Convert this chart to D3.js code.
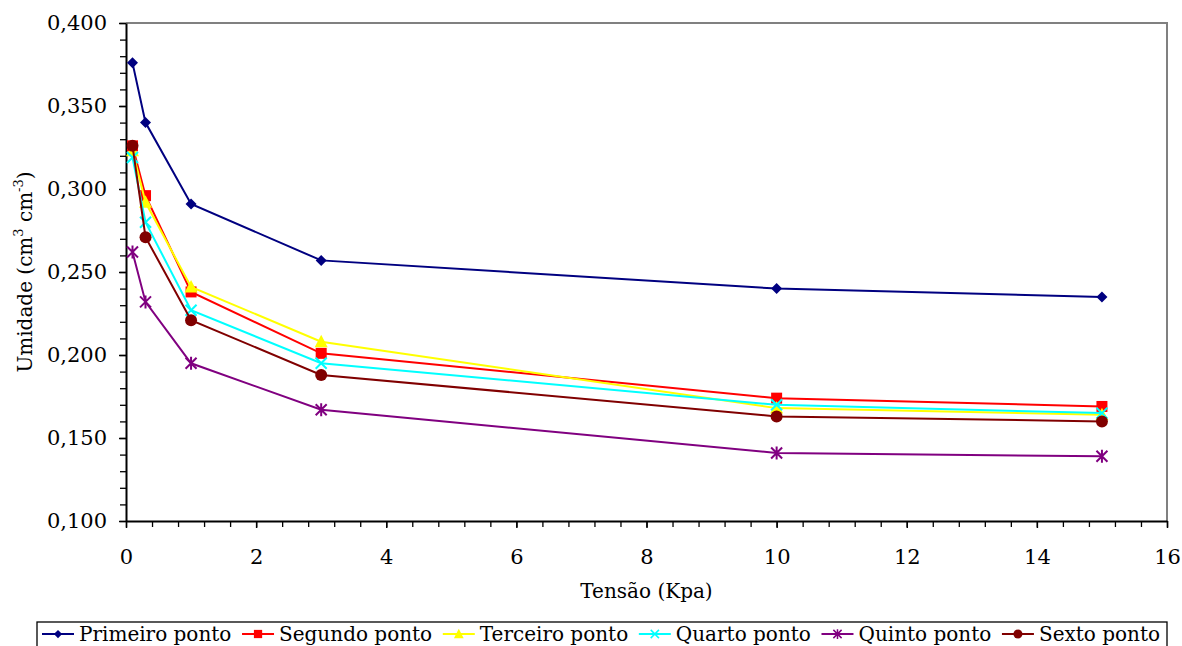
<!DOCTYPE html>
<html>
<head>
<meta charset="utf-8">
<script src="https://cdn.jsdelivr.net/npm/d3@7"></script>
<style>
  body { margin: 0; background: #fff; }
</style>
</head>
<body>
<svg id="chart" width="1182" height="646"></svg>
<script>
// tensao (kPa)
var tensao = [0.1, 0.3, 1, 3, 10, 15];

var primeiro = [0.376, 0.340, 0.291, 0.257, 0.240, 0.235];
var segundo  = [0.326, 0.296, 0.238, 0.201, 0.174, 0.169];
var terceiro = [0.323, 0.292, 0.241, 0.208, 0.168, 0.164];
var quarto   = [0.319, 0.280, 0.227, 0.195, 0.170, 0.165];
var quinto   = [0.262, 0.232, 0.195, 0.167, 0.141, 0.139];
var sexto    = [0.326, 0.271, 0.221, 0.188, 0.163, 0.160];

var seriesNames = ["Primeiro ponto", "Segundo ponto", "Terceiro ponto", "Quarto ponto", "Quinto ponto", "Sexto ponto"];
var seriesValues = [primeiro, segundo, terceiro, quarto, quinto, sexto];
var seriesColors = ["#000080", "#ff0000", "#ffff00", "#00ffff", "#800080", "#800000"];
var seriesMarkers = ["diamond", "square", "triangle", "x", "star", "circle"];

var xTicks = [0, 2, 4, 6, 8, 10, 12, 14, 16];
var yTicks = [0.100, 0.150, 0.200, 0.250, 0.300, 0.350, 0.400];

var FONT = "DejaVu Serif, serif";

var margin = {top: 23, right: 15, bottom: 125, left: 126},
    width = 1167 - margin.left,
    height = 521 - margin.top;

var svg = d3.select("#chart");
var g = svg.append("g")
    .attr("transform", "translate(" + margin.left + "," + margin.top + ")");

var x = d3.scaleLinear().domain([0, 16]).range([0, width]);
var y = d3.scaleLinear().domain([0.1, 0.4]).range([height, 0]);

var fmt = function(d) { return d3.format(".3f")(d).replace(".", ","); };

// plot border (top + right gray)
g.append("path")
    .attr("d", "M0,0H" + width + "V" + height)
    .attr("fill", "none")
    .attr("stroke", "#808080")
    .attr("stroke-width", 2);

// minor ticks
g.append("g")
    .attr("transform", "translate(0," + height + ")")
    .call(d3.axisBottom(x).tickValues(d3.range(0, 16.01, 0.4)).tickSize(6).tickFormat(""))
    .call(function(a) { a.select(".domain").remove(); a.selectAll("line").attr("stroke-width", 1.3); });
g.append("g")
    .call(d3.axisLeft(y).tickValues(d3.range(0.1, 0.4001, 0.01)).tickSize(6).tickFormat(""))
    .call(function(a) { a.select(".domain").remove(); a.selectAll("line").attr("stroke-width", 1.3); });

// major axes
var xAxis = g.append("g")
    .attr("transform", "translate(0," + height + ")")
    .call(d3.axisBottom(x).tickValues(xTicks).tickSize(7).tickPadding(21).tickSizeOuter(0));
xAxis.attr("font-family", FONT).attr("font-size", 21);
xAxis.select(".domain").attr("stroke-width", 2);
xAxis.selectAll("line").attr("stroke-width", 1.5);

var yAxis = g.append("g")
    .call(d3.axisLeft(y).tickValues(yTicks).tickSize(7).tickPadding(12).tickFormat(fmt).tickSizeOuter(0));
yAxis.attr("font-family", FONT).attr("font-size", 21);
yAxis.select(".domain").attr("stroke-width", 2);
yAxis.selectAll("line").attr("stroke-width", 1.5);

// axis titles
svg.append("text")
    .attr("x", margin.left + x(8))
    .attr("y", 598)
    .attr("text-anchor", "middle")
    .attr("font-family", FONT)
    .attr("font-size", 20)
    .text("Tensão (Kpa)");

var yt = svg.append("text")
    .attr("transform", "translate(32," + (margin.top + y(0.25)) + ") rotate(-90)")
    .attr("text-anchor", "middle")
    .attr("font-family", FONT)
    .attr("font-size", 20);
yt.append("tspan").text("Umidade (cm");
yt.append("tspan").attr("dy", -9).attr("font-size", 13).text("3");
yt.append("tspan").attr("dy", 9).text(" cm");
yt.append("tspan").attr("dy", -9).attr("font-size", 13).text("-3");
yt.append("tspan").attr("dy", 9).text(")");

// marker drawing
function drawMarker(sel, type, color) {
    var s = 5.5;
    if (type == "diamond") {
        sel.append("path").attr("d", "M0,-" + s + "L" + s + ",0L0," + s + "L-" + s + ",0Z").attr("fill", color);
    } else if (type == "square") {
        sel.append("rect").attr("x", -s).attr("y", -s).attr("width", 2 * s).attr("height", 2 * s).attr("fill", color);
    } else if (type == "triangle") {
        sel.append("path").attr("d", "M0,-7L6.5,5.5L-6.5,5.5Z").attr("fill", color);
    } else if (type == "x") {
        sel.append("path").attr("d", "M-5.5,-5.5L5.5,5.5M-5.5,5.5L5.5,-5.5").attr("stroke", color).attr("stroke-width", 2);
    } else if (type == "star") {
        sel.append("path").attr("d", "M-5.5,-5.5L5.5,5.5M-5.5,5.5L5.5,-5.5M0,-6.5V6.5").attr("stroke", color).attr("stroke-width", 2);
    } else {
        sel.append("circle").attr("r", s + 0.5).attr("fill", color);
    }
}

var line = d3.line()
    .x(function(d) { return x(d.x); })
    .y(function(d) { return y(d.y); });

seriesValues.forEach(function(vals, i) {
    var pts = vals.map(function(v, j) { return {x: tensao[j], y: v}; });
    var sg = g.append("g");
    sg.append("path")
        .datum(pts)
        .attr("fill", "none")
        .attr("stroke", seriesColors[i])
        .attr("stroke-width", 2)
        .attr("d", line);
    sg.selectAll(".pt")
        .data(pts)
        .enter()
        .append("g")
        .attr("transform", function(d) { return "translate(" + x(d.x) + "," + y(d.y) + ")"; })
        .each(function() { drawMarker(d3.select(this), seriesMarkers[i], seriesColors[i]); });
});

// legend
var legend = svg.append("g");
legend.append("rect")
    .attr("x", 37).attr("y", 622)
    .attr("width", 1130).attr("height", 40)
    .attr("fill", "#fff")
    .attr("stroke", "#000")
    .attr("stroke-width", 1.3);

// measure items first, then spread them between 42 and 1160
var items = seriesNames.map(function(name, i) {
    var it = legend.append("g");
    it.append("line").attr("x1", 0).attr("x2", 32).attr("stroke", seriesColors[i]).attr("stroke-width", 2);
    var m = it.append("g").attr("transform", "translate(16,0) scale(0.75)");
    drawMarker(m, seriesMarkers[i], seriesColors[i]);
    var t = it.append("text")
        .attr("x", 37).attr("y", 7)
        .attr("font-family", FONT)
        .attr("font-size", 20)
        .text(name);
    return {g: it, w: 37 + t.node().getComputedTextLength()};
});
var total = d3.sum(items, function(d) { return d.w; });
var gap = (1160 - 42 - total) / (items.length - 1);
var lx = 42;
items.forEach(function(d) {
    d.g.attr("transform", "translate(" + lx + ",634)");
    lx += d.w + gap;
});
</script>
</body>
</html>
